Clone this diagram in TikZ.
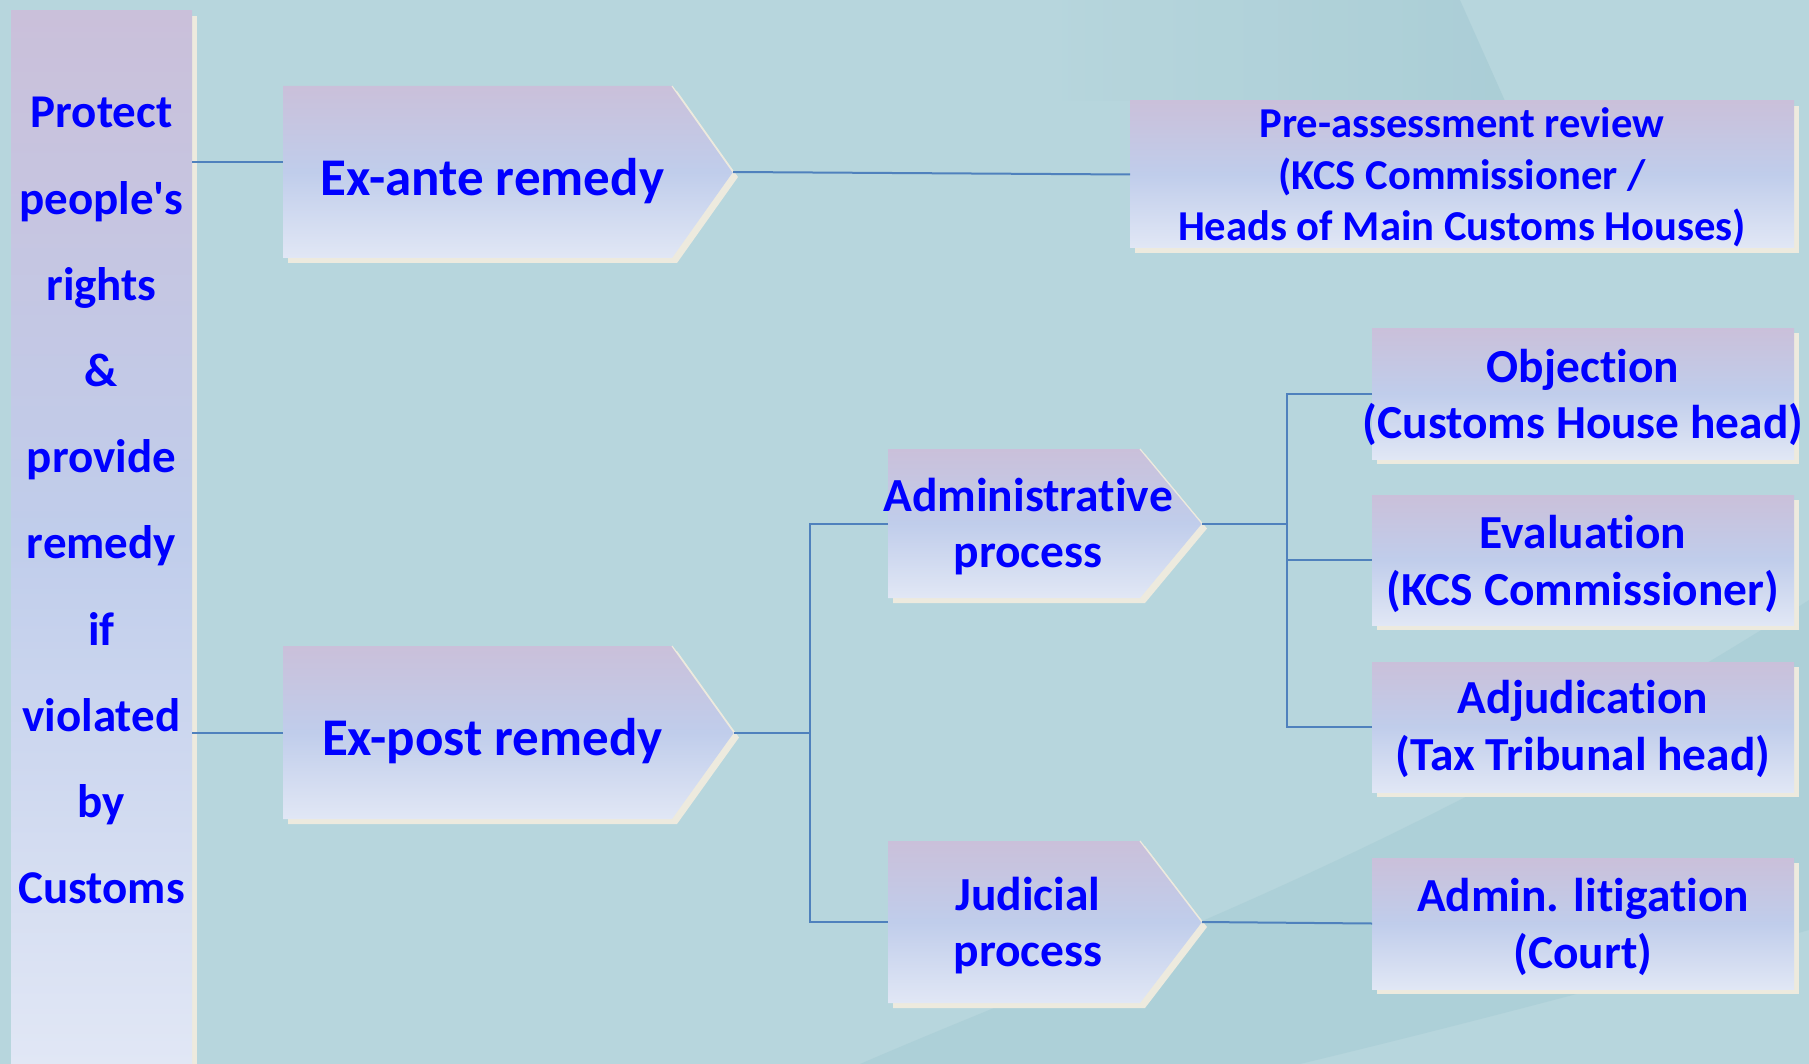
\documentclass[tikz,border=0pt]{standalone}
\usepackage{fontspec}
\setmainfont{Carlito}[Ligatures=NoCommon]
\usetikzlibrary{fit}
\definecolor{bg}{RGB}{183,214,221}
\definecolor{bgdark}{RGB}{163,201,210}
\definecolor{topc}{RGB}{202,192,218}
\definecolor{midc}{RGB}{192,205,235}
\definecolor{botc}{RGB}{225,231,245}
\definecolor{shadowc}{RGB}{237,234,222}
\definecolor{connc}{RGB}{79,129,189}
\definecolor{txt}{RGB}{0,0,255}
\newcommand\ml[1]{\vtop{\halign{\hfil##\hfil\cr#1\crcr}}}
\newcommand\arrowbox[6]{%
  \fill[shadowfill] ({#2+5},{#3+5}) -- ({#4+5},{#3+5}) -- ({#5+5},{(#3+#6)/2+5}) -- ({#4+5},{#6+5}) -- ({#2+5},{#6+5}) -- cycle;
  \shade[boxshade] (#2,#3) -- (#4,#3) -- (#5,{(#3+#6)/2}) -- (#4,#6) -- (#2,#6) -- cycle;
  \draw[shadowc, line width=0.6pt] (#4,#3) -- (#5,{(#3+#6)/2});
  \node[frame, fit={(#2,#3) (#5,#6)}] (#1) {};
}
\newcommand\rectbox[5]{%
  \fill[shadowfill] ({#2+5},{#3+5}) rectangle ({#4+5},{#5+5});
  \shade[boxshade] (#2,#3) rectangle (#4,#5);
  \node[frame, fit={(#2,#3) (#4,#5)}] (#1) {};
}
\begin{document}
\begin{tikzpicture}[x=0.5pt,y=-0.5pt,
  conn/.style={draw=connc, line width=1pt},
  boxshade/.style={top color=topc, bottom color=botc, middle color=midc},
  shadowfill/.style={fill=shadowc},
  frame/.style={inner sep=0pt, outer sep=0pt},
  lbl/.style={text=txt, inner sep=0pt, anchor=base},
]
\useasboundingbox (0,0) rectangle (1809,1064);
% background
\fill[bg] (0,0) rectangle (1809,1064);
\fill[bgdark, opacity=0.45] (860,1064) .. controls (1100,960) and (1400,860) .. (1809,600)
  -- (1809,930) .. controls (1600,990) and (1400,1040) .. (1300,1064) -- cycle;
\shade[left color=bg, right color=bgdark, opacity=0.6] (1050,0) -- (1460,0) -- (1505,101) -- (1050,101) -- cycle;

% left column
\fill[shadowfill] (192,16) rectangle (197,1064);
\shade[boxshade] (11,11) rectangle (192,1064);
\node[frame, fit={(11,11) (192,1064)}] (col) {};
\node[lbl, font={\bfseries\fontsize{23.5}{43.1}\selectfont}] (col-t) at (101.5,128)
  {\ml{Protect\cr people\textquotesingle s\cr rights\cr \&\cr provide\cr remedy\cr if\cr violated\cr by\cr Customs}};

% boxes
\arrowbox{exante}{283}{86}{672}{733}{258}
\arrowbox{expost}{283}{646}{672}{734}{819}
\arrowbox{admin}{888}{449}{1140}{1202}{598}
\arrowbox{judicial}{888}{841}{1140}{1202}{1003}
\rectbox{pre}{1130}{101}{1794}{248}
\rectbox{objection}{1372}{328}{1794}{459}
\rectbox{evaluation}{1372}{495}{1794}{625}
\rectbox{adjudication}{1372}{662}{1794}{792}
\rectbox{litigation}{1372}{858}{1794}{989}

% texts
\node[lbl, font={\bfseries\fontsize{26.5}{32}\selectfont}] (exante-t) at (492.5,196) {Ex-ante remedy};
\node[lbl, font={\bfseries\fontsize{26.5}{32}\selectfont}] (expost-t) at (492.5,755.5) {Ex-post remedy};
\node[lbl, font={\bfseries\fontsize{23.75}{28}\selectfont}] (admin-t) at (1028,511) {\ml{Administrative\cr process}};
\node[lbl, font={\bfseries\fontsize{23.75}{28}\selectfont}] (judicial-t) at (1028,910) {\ml{Judicial\cr process}};
\node[lbl, font={\bfseries\fontsize{21.3}{25.6}\selectfont}] (pre-t) at (1462,138)
  {\ml{Pre-assessment review\cr (KCS Commissioner /\cr Heads of Main Customs Houses)}};
\node[lbl, font={\bfseries\fontsize{23.7}{28.4}\selectfont}] (objection-t) at (1583,382) {\ml{Objection\cr (Customs House head)}};
\node[lbl, font={\bfseries\fontsize{23.7}{28.8}\selectfont}] (evaluation-t) at (1583,548) {\ml{Evaluation\cr (KCS Commissioner)}};
\node[lbl, font={\bfseries\fontsize{23.7}{28.8}\selectfont}] (adjudication-t) at (1583,713) {\ml{Adjudication\cr (Tax Tribunal head)}};
\node[lbl, font={\bfseries\fontsize{23.7}{28.6}\selectfont}] (litigation-t) at (1583,911) {\ml{Admin. litigation\cr (Court)}};

% connectors
\path ([yshift=5pt]exante.west) coordinate (ea-in);
\coordinate (j1) at (810,0);
\coordinate (j2) at (1287,0);
\draw[conn] (col.east |- ea-in) -- (ea-in);
\draw[conn] (col.east |- expost.west) -- (expost.west);
\draw[conn] (exante.east) -- (pre.west);
\draw[conn] (expost.east) -- (expost.east -| j1);
\draw[conn] (admin.west) -- (admin.west -| j1) -- (judicial.west -| j1) -- (judicial.west);
\draw[conn] (admin.east) -- (admin.east -| j2);
\draw[conn] (objection.west) -- (objection.west -| j2) -- (adjudication.west -| j2) -- (adjudication.west);
\draw[conn] (evaluation.west -| j2) -- (evaluation.west);
\draw[conn] (judicial.east) -- (litigation.west);
\end{tikzpicture}
\end{document}
